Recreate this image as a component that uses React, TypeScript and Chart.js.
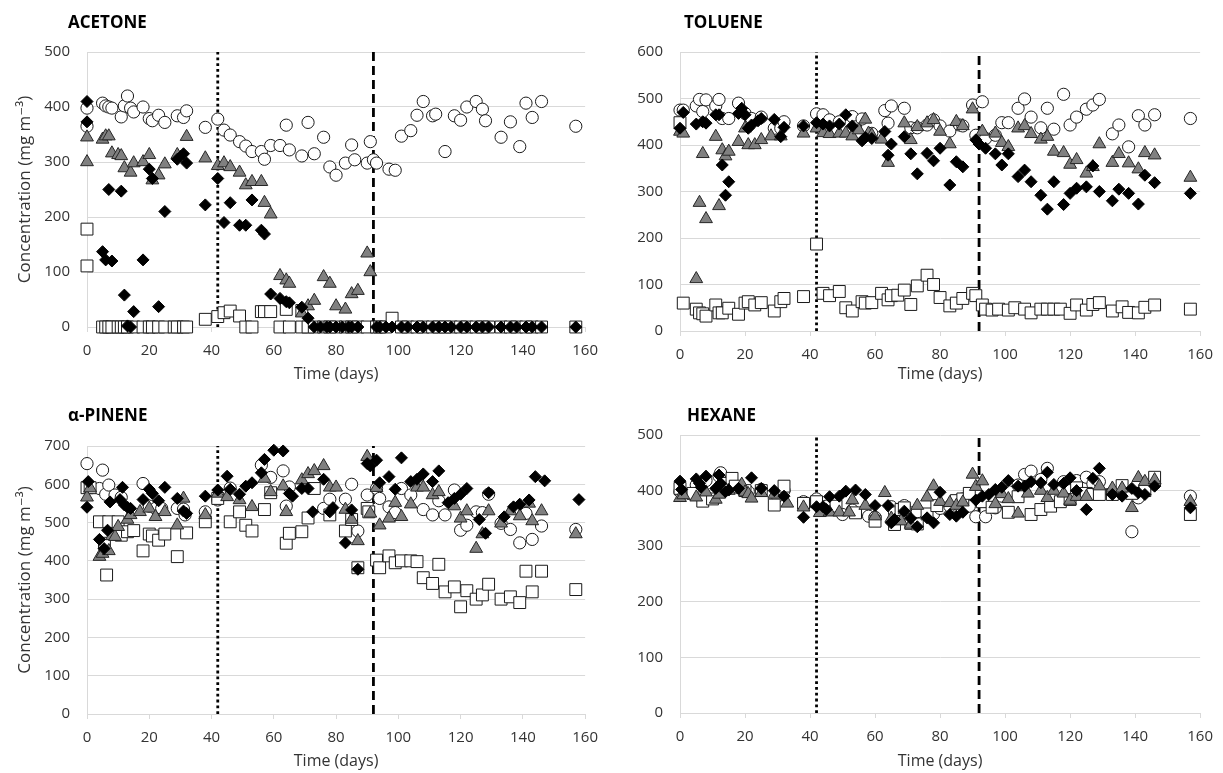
import { useEffect, useRef } from "react";
import { Chart, registerables } from "chart.js";

Chart.register(...registerables);

type P = [number, number];

const X_MIN = 0;
const X_MAX = 160;
const X_STEP = 20;
const Y_STEP = 100;
const DOTTED_DAY = 42;
const DASHED_DAY = 92;
const Y_TITLE = "Concentration (mg m⁻³)";
const X_TITLE = "Time (days)";

// ---------------- ACETONE ----------------
const acetoneCircles: P[] = [
  [0, 398], [0, 365], [5, 407], [6, 402], [7, 400], [8, 398], [11, 382], [12, 402], [13, 420], [14, 398], [15, 391],
  [18, 400], [20, 379], [21, 375], [23, 385], [25, 372], [29, 384], [31, 381], [32, 393], [38, 363], [42, 378],
  [44, 358], [46, 349], [49, 337], [51, 329], [53, 319], [56, 319], [57, 305], [59, 330], [62, 330], [64, 367],
  [65, 322], [69, 311], [71, 372], [73, 315], [76, 345], [78, 291], [80, 276], [83, 298], [85, 331], [86, 304],
  [90, 298], [91, 337], [92, 304], [93, 298], [97, 287], [99, 285], [101, 347], [104, 357], [106, 385], [108, 410],
  [111, 384], [112, 387], [115, 319], [118, 384], [120, 376], [122, 400], [125, 410], [127, 396], [128, 375],
  [133, 345], [136, 373], [139, 328], [141, 407], [143, 381], [146, 410], [157, 365],
];
const acetoneTriangles: P[] = [
  [0, 345], [0, 300], [5, 341], [6, 347], [7, 347], [8, 316], [10, 313], [11, 311], [12, 289], [14, 281], [15, 298],
  [18, 300], [20, 313], [21, 267], [23, 276], [25, 296], [29, 313], [30, 308], [32, 346], [38, 307], [42, 293],
  [44, 298], [46, 291], [49, 281], [51, 258], [53, 264], [56, 264], [57, 226], [59, 205], [62, 93], [64, 85],
  [65, 79], [69, 25], [71, 38], [73, 48], [76, 91], [78, 79], [80, 38], [83, 32], [85, 60], [87, 66], [90, 134], [91, 100],
];
const acetoneDiamonds: P[] = [
  [0, 410], [0, 373], [5, 137], [6, 122], [7, 250], [8, 120], [11, 247], [12, 58], [13, 2], [14, 0], [15, 28],
  [18, 122], [20, 287], [21, 270], [23, 37], [25, 210], [29, 305], [31, 315], [32, 298], [38, 222], [42, 270],
  [44, 190], [46, 226], [49, 185], [51, 185], [53, 231], [56, 176], [57, 169], [59, 60], [62, 52], [64, 46],
  [65, 44], [69, 36], [71, 16], [73, 0], [75, 0], [77, 0], [78, 0], [80, 0], [82, 0], [84, 0], [85, 0], [87, 0],
  [93, 0], [94, 0], [96, 0], [98, 0], [101, 0], [103, 0], [106, 0], [108, 0], [111, 0], [113, 0], [115, 0], [117, 0],
  [120, 0], [122, 0], [125, 0], [127, 0], [129, 0], [133, 0], [136, 0], [138, 0], [141, 0], [143, 0], [146, 0], [157, 0],
];
const acetoneSquares: P[] = [
  [0, 178], [0, 111], [5, 0], [6, 0], [7, 0], [8, 0], [10, 0], [11, 0], [12, 0], [13, 0], [15, 0], [18, 0], [20, 0],
  [21, 0], [23, 0], [25, 0], [28, 0], [29, 0], [31, 0], [32, 0], [38, 14], [42, 19], [44, 26], [46, 29], [49, 20],
  [51, 0], [53, 0], [56, 28], [57, 28], [59, 28], [62, 0], [64, 32], [65, 0], [69, 30], [69, 0], [71, 0], [73, 0],
  [76, 0], [78, 0], [80, 0], [83, 0], [85, 0], [87, 0], [90, 0], [93, 0], [94, 0], [96, 0], [98, 16], [101, 0],
  [103, 0], [106, 0], [108, 0], [111, 0], [113, 0], [115, 0], [117, 0], [120, 0], [122, 0], [125, 0], [127, 0],
  [129, 0], [133, 0], [136, 0], [138, 0], [141, 0], [143, 0], [146, 0], [157, 0],
];

// ---------------- TOLUENE ----------------
const tolueneCircles: P[] = [
  [0, 475], [1, 475], [5, 484], [6, 498], [7, 472], [8, 497], [11, 484], [12, 498], [13, 457], [15, 457], [18, 490],
  [20, 468], [22, 457], [25, 460], [29, 436], [31, 436], [32, 450], [38, 441], [42, 467], [44, 465], [46, 454],
  [49, 450], [53, 461], [54, 439], [56, 456], [59, 425], [63, 474], [64, 447], [65, 484], [69, 479], [71, 437],
  [73, 437], [76, 443], [78, 454], [80, 441], [83, 430], [86, 443], [87, 441], [90, 486], [91, 421], [93, 493],
  [94, 414], [97, 421], [99, 448], [101, 448], [104, 479], [106, 499], [108, 460], [111, 437], [113, 479],
  [115, 434], [118, 509], [120, 443], [122, 460], [125, 477], [127, 486], [129, 498], [133, 424], [135, 443],
  [138, 396], [141, 463], [143, 443], [146, 465], [157, 457],
];
const tolueneTriangles: P[] = [
  [0, 429], [1, 425], [5, 112], [6, 276], [7, 381], [8, 241], [11, 418], [12, 269], [13, 389], [14, 376], [15, 386],
  [18, 407], [20, 436], [21, 400], [23, 400], [25, 411], [28, 419], [31, 419], [38, 425], [42, 436], [44, 426],
  [46, 424], [49, 425], [51, 425], [53, 419], [55, 432], [57, 455], [58, 425], [59, 421], [62, 412], [64, 362],
  [69, 447], [71, 411], [73, 439], [76, 447], [78, 454], [80, 429], [83, 402], [85, 450], [87, 441], [90, 477],
  [93, 429], [97, 425], [99, 405], [101, 396], [104, 436], [106, 441], [108, 424], [111, 412], [113, 418],
  [115, 386], [118, 383], [120, 358], [122, 368], [125, 339], [127, 353], [129, 402], [133, 362], [135, 381],
  [138, 361], [141, 348], [143, 383], [146, 378], [157, 330],
];
const tolueneDiamonds: P[] = [
  [0, 436], [1, 470], [5, 445], [7, 450], [8, 447], [11, 465], [12, 465], [13, 357], [14, 292], [15, 321], [18, 468],
  [19, 479], [20, 465], [21, 436], [22, 443], [24, 452], [25, 457], [29, 455], [31, 418], [32, 438], [38, 441],
  [42, 448], [44, 445], [46, 441], [49, 445], [51, 465], [53, 441], [56, 409], [57, 416], [59, 414], [63, 429],
  [64, 378], [65, 402], [69, 418], [71, 381], [73, 338], [76, 382], [78, 366], [80, 393], [83, 314], [85, 364],
  [87, 353], [91, 411], [92, 402], [94, 393], [97, 381], [99, 357], [101, 381], [104, 332], [106, 346], [108, 321],
  [111, 292], [113, 262], [115, 321], [118, 272], [120, 296], [122, 307], [125, 310], [127, 355], [129, 300],
  [133, 280], [135, 305], [138, 296], [141, 273], [143, 335], [146, 319], [157, 296],
];
const tolueneSquares: P[] = [
  [0, 448], [1, 60], [5, 47], [6, 39], [7, 37], [8, 32], [11, 56], [12, 39], [13, 39], [15, 49], [18, 36], [20, 60],
  [21, 63], [23, 56], [25, 61], [29, 43], [31, 63], [32, 70], [38, 74], [42, 187], [44, 81], [46, 76], [49, 85],
  [51, 50], [53, 43], [56, 63], [57, 60], [59, 61], [62, 81], [64, 67], [65, 76], [67, 77], [69, 88], [71, 57],
  [73, 97], [76, 120], [78, 100], [80, 72], [83, 54], [85, 60], [87, 70], [90, 81], [91, 76], [93, 56], [94, 47],
  [96, 45], [98, 47], [101, 45], [103, 50], [106, 47], [108, 39], [111, 47], [113, 47], [115, 47], [117, 47],
  [120, 38], [122, 56], [125, 45], [127, 57], [129, 61], [133, 43], [136, 52], [138, 40], [141, 39], [143, 51],
  [146, 56], [157, 47],
];

// ---------------- ALPHA-PINENE ----------------
const pineneCircles: P[] = [
  [0, 654], [4, 589], [5, 637], [6, 574], [7, 598], [9, 572], [11, 566], [18, 602], [20, 543], [22, 537], [24, 537],
  [29, 537], [31, 535], [31.5, 520], [38, 528], [42, 559], [46, 590], [56, 650], [59, 618], [63, 635], [64, 543],
  [65, 593], [76, 537], [78, 561], [83, 561], [85, 600], [87, 478], [90, 572], [93, 589], [94, 563], [97, 541],
  [99, 526], [101, 589], [104, 572], [108, 534], [111, 520], [113, 557], [115, 520], [118, 585], [120, 480],
  [122, 493], [125, 528], [127, 526], [129, 574], [133, 498], [136, 482], [139, 447], [141, 524], [143, 456],
  [146, 491], [157, 482],
];
const pineneTriangles: P[] = [
  [0, 566], [1, 590], [4, 411], [5, 419], [7, 426], [8, 465], [9, 463], [10, 489], [13, 508], [14, 520], [17, 528],
  [20, 537], [22, 515], [25, 528], [29, 493], [31, 563], [38, 520], [42, 576], [45, 567], [49, 559], [53, 541],
  [57, 615], [59, 580], [63, 595], [64, 528], [69, 611], [71, 627], [73, 635], [76, 648], [78, 592], [80, 592],
  [83, 534], [85, 508], [87, 452], [90, 672], [91, 524], [93, 591], [94, 493], [97, 511], [99, 552], [101, 515],
  [104, 548], [106, 592], [108, 592], [111, 572], [113, 580], [118, 543], [120, 511], [122, 530], [125, 432],
  [127, 470], [129, 530], [133, 498], [136, 530], [139, 517], [142, 550], [143, 504], [146, 530], [157, 470],
];
const pineneDiamonds: P[] = [
  [0, 540], [0.4, 607], [4, 456], [5.5, 432], [6.6, 480], [7.4, 554], [10.6, 560], [11.4, 592], [12, 546], [13, 540],
  [14, 537], [18, 560], [20, 587], [21, 576], [23, 557], [25, 592], [29, 563], [31, 530], [32, 524], [38, 569],
  [42, 585], [45, 621], [46, 587], [49, 574], [51, 595], [53, 604], [56, 630], [57, 665], [60, 689], [63, 687],
  [65, 576], [66, 569], [69, 589], [71, 589], [72.5, 528], [76, 613], [78, 528], [79, 539], [83, 447], [85, 533],
  [87, 378], [90, 654], [91, 648], [93, 663], [94, 604], [97, 620], [99, 587], [101, 669], [104, 607], [106, 613],
  [108, 627], [111, 607], [113, 635], [116, 552], [118, 563], [120, 574], [122, 589], [126, 508], [128, 472],
  [129, 578], [134, 515], [137, 541], [139, 548], [142, 559], [144, 620], [147, 609], [158, 560],
];
const pineneSquares: P[] = [
  [0, 591], [1, 591], [4, 502], [5.6, 446], [6.3, 363], [7, 502], [10, 502], [11, 467], [13, 476], [15, 479],
  [18, 426], [20, 470], [21, 465], [23, 454], [25, 470], [29, 411], [32, 473], [38, 502], [42, 563], [46, 502],
  [49, 528], [51, 493], [53, 478], [57, 534], [59, 578], [64, 446], [65, 472], [69, 476], [71, 512], [73, 589],
  [78, 520], [83, 478], [85, 508], [87, 382], [90, 537], [90.5, 528], [93, 402], [94, 382], [97, 413], [99, 395],
  [101, 400], [104, 400], [106, 398], [108, 356], [111, 341], [113, 391], [115, 319], [118, 332], [120, 280],
  [122, 322], [125, 300], [127, 311], [129, 339], [133, 300], [136, 306], [139, 291], [141, 373], [143, 319],
  [146, 373], [157, 325],
];

// ---------------- HEXANE ----------------
const hexaneCircles: P[] = [
  [0, 398], [5, 410], [8, 418], [12, 426], [12.5, 432], [15, 412], [18, 405], [21, 398], [25, 402], [30, 390],
  [32, 400], [38, 380], [42, 385], [45, 372], [50, 357], [53, 365], [58, 354], [60, 352], [65, 371], [66, 360],
  [69, 373], [71, 360], [73, 362], [78, 358], [80, 368], [83, 372], [85, 378], [87, 385], [89, 372], [91, 353],
  [94, 353], [97, 369], [99, 390], [101, 398], [104, 410], [106, 429], [108, 435], [111, 420], [113, 440],
  [115, 389], [118, 416], [120, 400], [122, 418], [125, 424], [127, 412], [129, 416], [133, 395], [136, 400],
  [139, 326], [141, 387], [143, 405], [146, 412], [157, 390],
];
const hexaneTriangles: P[] = [
  [0, 387], [1, 392], [5, 388], [8, 397], [11, 384], [12, 393], [15, 400], [19, 411], [20, 397], [21, 394],
  [22, 386], [25, 396], [29, 393], [33, 377], [38, 370], [43, 360], [46, 361], [49, 361], [52, 361], [53, 383],
  [57, 373], [60, 354], [63, 396], [65, 350], [68, 345], [71, 339], [73, 373], [76, 388], [78, 408], [80, 380],
  [83, 378], [85, 373], [87, 379], [90, 429], [91, 407], [93, 417], [97, 376], [99, 394], [101, 385], [104, 359],
  [107, 395], [111, 400], [113, 387], [115, 400], [118, 395], [120, 382], [122, 389], [125, 389], [129, 408],
  [133, 404], [136, 404], [139, 369], [141, 423], [143, 416], [146, 419], [157, 380],
];
const hexaneDiamonds: P[] = [
  [0, 417], [0.5, 402], [5, 421], [6, 413], [6.5, 406], [8, 426], [11, 404], [12, 428], [12.5, 413], [14, 398],
  [15, 401], [18, 404], [22, 423], [25, 404], [29, 400], [32, 390], [38, 352], [42, 371], [44, 371], [45, 366],
  [46, 389], [49, 390], [51, 399], [54, 401], [57, 393], [60, 373], [64, 373], [65, 342], [66, 348], [69, 363],
  [71, 350], [73, 335], [76, 351], [78, 342], [80, 397], [83, 357], [85, 354], [87, 361], [91, 383], [93, 390],
  [95, 393], [97, 402], [99, 406], [101, 418], [104, 408], [106, 408], [108, 416], [111, 414], [113, 433],
  [115, 411], [118, 413], [120, 423], [122, 400], [125, 366], [127, 422], [129, 440], [133, 393], [136, 390],
  [139, 404], [141, 396], [143, 393], [146, 408], [157, 369],
];
const hexaneSquares: P[] = [
  [0, 404], [4, 395], [7, 381], [10, 385], [14, 413], [16, 422], [17, 408], [20, 400], [25, 400], [29, 374],
  [32, 408], [38, 377], [42, 380], [48, 372], [54, 360], [60, 345], [66, 339], [68, 366], [69, 369], [71, 341],
  [73, 340], [76, 358], [79, 373], [85, 382], [87, 385], [89, 395], [93, 380], [96, 370], [101, 361], [104, 389],
  [108, 357], [111, 366], [114, 372], [117, 380], [120, 384], [122, 405], [125, 395], [127, 393], [129, 393],
  [133, 393], [136, 409], [139, 395], [143, 400], [146, 424], [157, 357],
];

const FONT = '"Open Sans", "DejaVu Sans", sans-serif';
const GRID = "#d9d9d9";
const TEXT = "#333333";

type PanelProps = {
  title: string;
  left: number;
  top: number;
  width: number;
  height: number;
  titleX: number;
  titleY: number;
  padTop: number;
  padRight: number;
  yWidth: number;
  xHeight: number;
  xTitlePad: number;
  yMax: number;
  showYTitle: boolean;
  circles: P[];
  squares: P[];
  triangles: P[];
  diamonds: P[];
};

const pts = (a: P[]) => a.map(([x, y]) => ({ x, y }));

function Panel(props: PanelProps) {
  const ref = useRef<HTMLCanvasElement | null>(null);
  useEffect(() => {
    const p = props;
    const titlePlugin = {
      id: "panelTitle",
      afterDraw(chart: any) {
        const ctx = chart.ctx;
        ctx.save();
        ctx.font = `bold 17px ${FONT}`;
        ctx.fillStyle = "#000";
        ctx.textAlign = "left";
        ctx.textBaseline = "middle";
        ctx.fillText(p.title, p.titleX, p.titleY);
        ctx.restore();
      },
    };
    const vline = (day: number, dash: number[], order: number) => ({
      data: [{ x: day, y: 0 }, { x: day, y: p.yMax }],
      showLine: true,
      borderColor: "#000",
      borderWidth: 2.8,
      borderDash: dash,
      borderCapStyle: "butt",
      pointRadius: 0,
      order,
      clip: false,
    });
    const chart = new Chart(ref.current as HTMLCanvasElement, {
      type: "scatter",
      data: {
        datasets: [
          {
            data: pts(p.diamonds),
            pointStyle: "rectRot",
            pointRadius: 6,
            pointBackgroundColor: "#000",
            pointBorderColor: "#000",
            pointBorderWidth: 1,
            order: 0,
            clip: false,
          },
          {
            data: pts(p.triangles),
            pointStyle: "triangle",
            pointRadius: 7.4,
            pointBackgroundColor: "#808080",
            pointBorderColor: "#262626",
            pointBorderWidth: 1,
            order: 1,
            clip: false,
          },
          {
            data: pts(p.squares),
            pointStyle: "rect",
            pointRadius: 8.4,
            pointBackgroundColor: "#fff",
            pointBorderColor: "#1a1a1a",
            pointBorderWidth: 1,
            order: 2,
            clip: false,
          },
          {
            data: pts(p.circles),
            pointStyle: "circle",
            pointRadius: 6.1,
            pointBackgroundColor: "#fff",
            pointBorderColor: "#1a1a1a",
            pointBorderWidth: 1,
            order: 3,
            clip: false,
          },
          vline(DOTTED_DAY, [2.8, 3], 4) as any,
          vline(DASHED_DAY, [9, 5], 5) as any,
        ],
      },
      options: {
        responsive: false,
        animation: false,
        devicePixelRatio: 1,
        events: [],
        layout: { padding: { top: p.padTop, right: p.padRight, left: 0, bottom: 0 } },
        plugins: { legend: { display: false }, tooltip: { enabled: false }, title: { display: false } },
        scales: {
          x: {
            type: "linear",
            min: X_MIN,
            max: X_MAX,
            ticks: { stepSize: X_STEP, padding: 10, color: TEXT, font: { family: FONT, size: 15 } },
            grid: { drawOnChartArea: false, drawTicks: true, tickLength: 5, color: GRID, tickColor: GRID },
            border: { color: GRID, width: 1 },
            title: {
              display: true,
              text: X_TITLE,
              color: TEXT,
              font: { family: FONT, size: 16 },
              padding: { top: 0, bottom: p.xTitlePad },
            },
            afterFit: (s: any) => {
              s.height = p.xHeight;
            },
          },
          y: {
            min: 0,
            max: p.yMax,
            ticks: { stepSize: Y_STEP, padding: 17, color: TEXT, font: { family: FONT, size: 15 } },
            grid: { color: GRID, drawTicks: false, lineWidth: 1 },
            border: { color: GRID, width: 1 },
            title: {
              display: p.showYTitle,
              text: Y_TITLE,
              color: TEXT,
              font: { family: FONT, size: 17 },
              padding: { top: 15, bottom: 0 },
            },
            afterFit: (s: any) => {
              s.width = p.yWidth;
            },
          },
        },
      } as any,
      plugins: [titlePlugin],
    } as any);
    return () => chart.destroy();
  }, []);
  return (
    <canvas
      ref={ref}
      width={props.width}
      height={props.height}
      style={{ position: "absolute", left: props.left, top: props.top, width: props.width, height: props.height }}
    />
  );
}

export default function App() {
  return (
    <div style={{ position: "absolute", left: 0, top: 0, width: 1223, height: 773, background: "#fff", overflow: "hidden" }}>
      <Panel
        title="ACETONE"
        left={0} top={0} width={608} height={390}
        titleX={68} titleY={23}
        padTop={52} padRight={15} yWidth={87} xHeight={63} xTitlePad={6}
        yMax={500} showYTitle={true}
        circles={acetoneCircles} squares={acetoneSquares} triangles={acetoneTriangles} diamonds={acetoneDiamonds}
      />
      <Panel
        title="TOLUENE"
        left={608} top={0} width={615} height={390}
        titleX={76} titleY={23}
        padTop={52} padRight={14} yWidth={72} xHeight={59} xTitlePad={6}
        yMax={600} showYTitle={false}
        circles={tolueneCircles} squares={tolueneSquares} triangles={tolueneTriangles} diamonds={tolueneDiamonds}
      />
      <Panel
        title="α-PINENE"
        left={0} top={390} width={608} height={383}
        titleX={68} titleY={26}
        padTop={56} padRight={18} yWidth={87} xHeight={59} xTitlePad={2}
        yMax={700} showYTitle={true}
        circles={pineneCircles} squares={pineneSquares} triangles={pineneTriangles} diamonds={pineneDiamonds}
      />
      <Panel
        title="HEXANE"
        left={608} top={390} width={615} height={383}
        titleX={79} titleY={26}
        padTop={45} padRight={15} yWidth={72} xHeight={60} xTitlePad={2}
        yMax={500} showYTitle={false}
        circles={hexaneCircles} squares={hexaneSquares} triangles={hexaneTriangles} diamonds={hexaneDiamonds}
      />
    </div>
  );
}
